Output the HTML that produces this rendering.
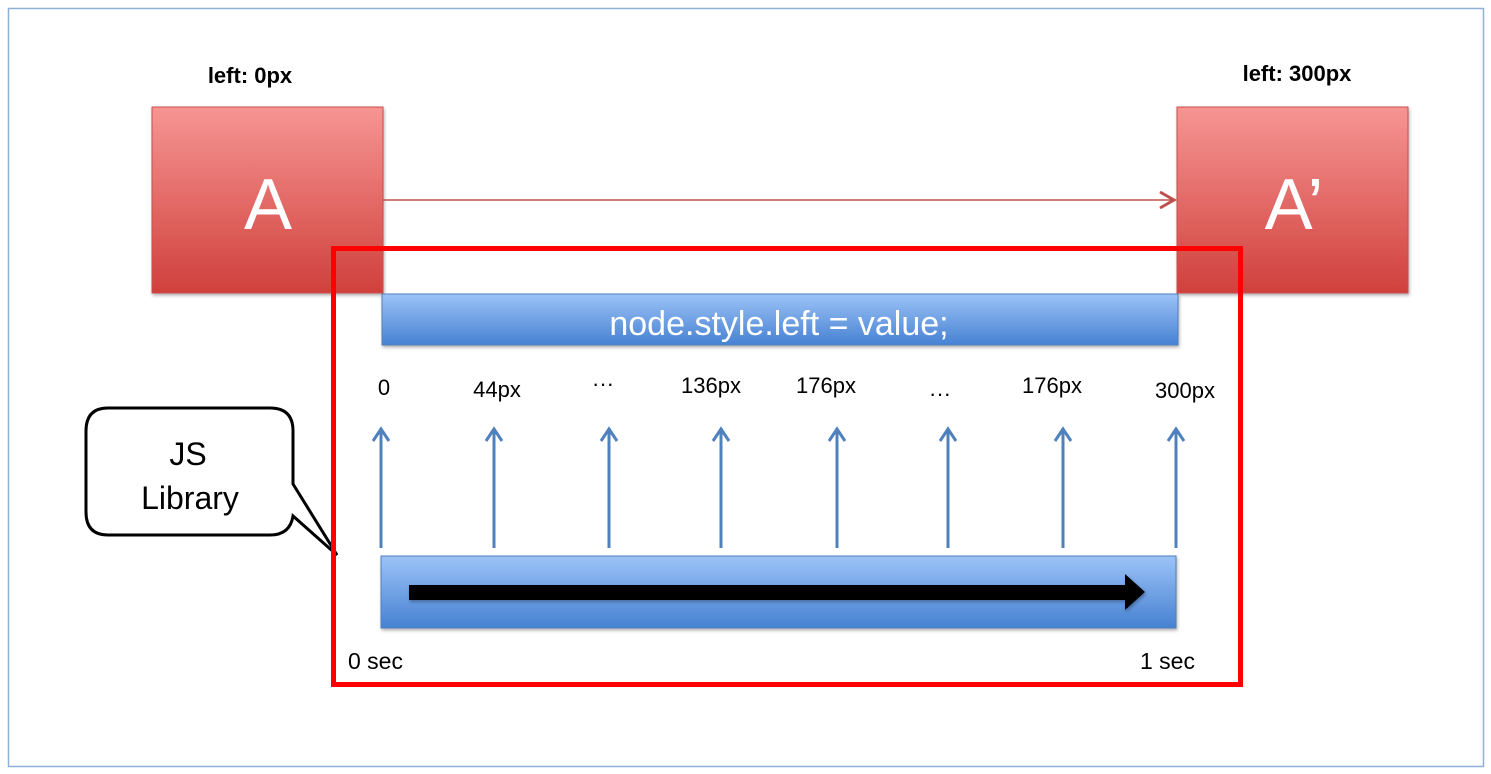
<!DOCTYPE html>
<html><head><meta charset="utf-8"><style>
html,body{margin:0;padding:0;background:#fff;width:1491px;height:774px;overflow:hidden}
svg{display:block}
text{font-family:"Liberation Sans",sans-serif}
</style></head><body>
<svg width="1491" height="774" viewBox="0 0 1491 774">
<defs>
<linearGradient id="rg" x1="0" y1="0" x2="0" y2="1"><stop offset="0" stop-color="#f69593"/><stop offset="1" stop-color="#d0403c"/></linearGradient>
<linearGradient id="bg" x1="0" y1="0" x2="0" y2="1"><stop offset="0" stop-color="#9cc3f7"/><stop offset="1" stop-color="#4681d2"/></linearGradient>
<filter id="sh" x="-5%" y="-5%" width="110%" height="120%"><feDropShadow dx="1" dy="2" stdDeviation="1.5" flood-opacity="0.3"/></filter>
</defs>
<rect x="8.5" y="8.5" width="1475" height="758" fill="#fff" stroke="#8fb0d8" stroke-width="1.5"/>
<text x="250" y="83" font-size="22" font-weight="bold" text-anchor="middle">left: 0px</text>
<text x="1297" y="81" font-size="22" font-weight="bold" text-anchor="middle">left: 300px</text>
<g>
<rect x="152" y="107" width="231" height="186" fill="url(#rg)" stroke="#c9504c" filter="url(#sh)"/>
<text x="268" y="229" font-size="72" fill="#fff" text-anchor="middle">A</text></g>
<g>
<rect x="1177" y="107" width="231" height="186" fill="url(#rg)" stroke="#c9504c" filter="url(#sh)"/>
<text x="1294" y="229" font-size="72" fill="#fff" text-anchor="middle">A’</text></g>
<g stroke="#c0504d" fill="none" stroke-width="1.5">
<line x1="383" y1="200" x2="1174" y2="200"/>
<polyline points="1160,192 1174,200 1160,208" stroke-width="3"/></g>
<g>
<rect x="382" y="294" width="796" height="51" fill="url(#bg)" stroke="#4f81bd" filter="url(#sh)"/>
<text x="779" y="335" font-size="34" fill="#fff" text-anchor="middle">node.style.left = value;</text></g>
<g id="ticks"></g>
<g>
<rect x="381" y="556" width="795" height="72" fill="url(#bg)" stroke="#4f81bd" filter="url(#sh)"/>
<polygon points="409,585 1125,585 1125,574 1145,592 1125,610 1125,600 409,600" fill="#000" filter="url(#sh)"/></g>
<text x="348" y="669" font-size="23">0 sec</text>
<text x="1140" y="669" font-size="23">1 sec</text>
<g>
<path d="M108,408 H270 Q293,408 293,431 V484 L337,555 L293,516 Q290,535 270,535 H108 Q86,535 86,512 V431 Q86,408 108,408 Z" fill="#fff" stroke="#000" stroke-width="3"/>
<text x="188" y="465" font-size="32" text-anchor="middle">JS</text>
<text x="190" y="509" font-size="32" text-anchor="middle">Library</text></g>
<rect x="333.5" y="248.5" width="907" height="436" fill="none" stroke="#ff0000" stroke-width="5"/>
</svg>
<script>
const frameLabels=["0","44px","...","136px","176px","...","176px","300px"];
const frameX=[381,494,609,721,837,948,1063,1176];
const labelX=[384,497,603,711,826,940,1052,1185];
const labelY=[395,397,391,393,393,401,393,398];
const NS="http://www.w3.org/2000/svg";
const g=document.getElementById('ticks');
frameLabels.forEach((l,i)=>{
 const x=frameX[i];
 const ln=document.createElementNS(NS,'line');
 
 
 ln.setAttribute('x1',x);ln.setAttribute('y1',548);ln.setAttribute('x2',x);ln.setAttribute('y2',430);
 ln.setAttribute('stroke','#4f81bd');ln.setAttribute('stroke-width',3);g.appendChild(ln);
 const hd=document.createElementNS(NS,'polyline');
 
 
 hd.setAttribute('points',`${x-8},${441} ${x},${429} ${x+8},${441}`);
 hd.setAttribute('stroke','#4f81bd');hd.setAttribute('stroke-width',3);hd.setAttribute('fill','none');g.appendChild(hd);
 const t=document.createElementNS(NS,'text');
 
 
 t.setAttribute('x',labelX[i]);t.setAttribute('y',labelY[i]);
 t.setAttribute('font-size',22);t.setAttribute('text-anchor','middle');
 t.textContent=l==="..."?"···":l;g.appendChild(t);
});
</script>
</body></html>
